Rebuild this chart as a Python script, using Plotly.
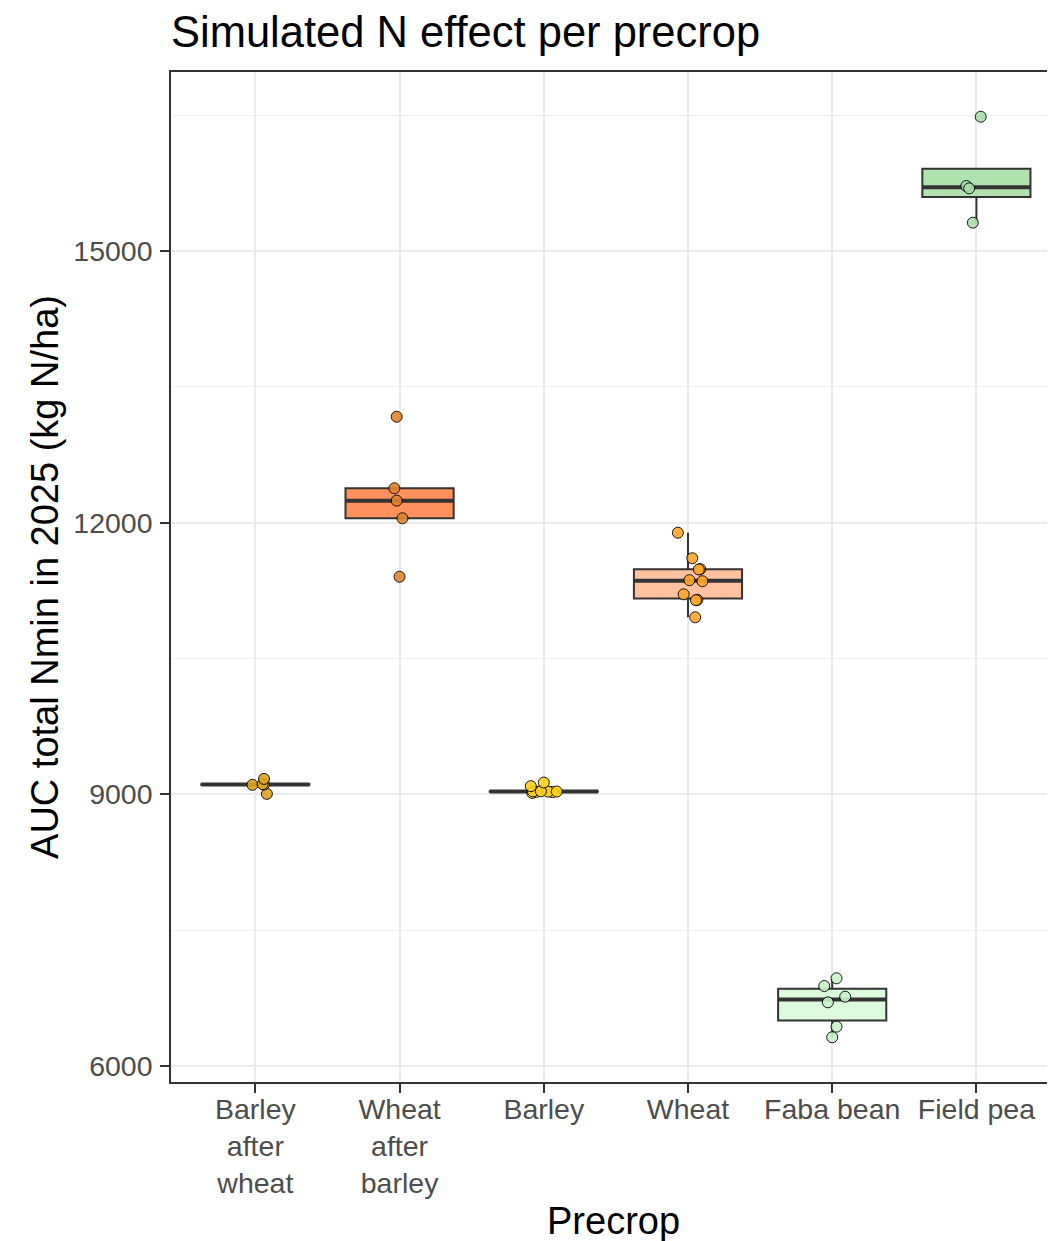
import numpy as np
import plotly.graph_objects as go

# ---------------- data ----------------
categories = ["Barley after wheat", "Wheat after barley", "Barley", "Wheat", "Faba bean", "Field pea"]
tick_labels = ["Barley<br>after<br>wheat", "Wheat<br>after<br>barley", "Barley", "Wheat", "Faba bean", "Field pea"]

barley_after_wheat = [9005, 9105, 9108, 9112, 9170]
wheat_after_barley = [13170, 12380, 12243, 12048, 11403]
barley = [9015, 9025, 9028, 9030, 9031, 9032, 9034, 9090, 9130]
wheat = [11889, 11607, 11487, 11483, 11365, 11353, 11209, 11148, 11144, 10955]
faba_bean = [6968, 6883, 6765, 6703, 6434, 6317]
field_pea = [16483, 15718, 15692, 15313]

# horizontal jitter of each point (category units)
jit_barley_after_wheat = [0.08, -0.02, 0.06, 0.05, 0.06]
jit_wheat_after_barley = [-0.02, -0.036, -0.02, 0.02, 0.0]
jit_barley = [-0.08, 0.06, -0.05, 0.03, 0.09, -0.075, -0.02, -0.09, 0.0]
jit_wheat = [-0.07, 0.03, 0.085, 0.075, 0.01, 0.1, -0.03, 0.065, 0.055, 0.05]
jit_faba_bean = [0.03, -0.055, 0.09, -0.03, 0.03, 0.0]
jit_field_pea = [0.03, -0.07, -0.05, -0.025]

box_fill = ["#DAA520", "#FF915C", "#FFD700", "#FFC1A0", "#DCFADC", "#B0E2B0"]
point_fill = ["#DAA520", "#E0842F", "#FFD21F", "#FFA62B", "#C9F2C9", "#A8DDA8"]

series = [barley_after_wheat, wheat_after_barley, barley, wheat, faba_bean, field_pea]
jitters = [jit_barley_after_wheat, jit_wheat_after_barley, jit_barley, jit_wheat,
           jit_faba_bean, jit_field_pea]

FONT = "Liberation Sans, Arial, sans-serif"
BOX_W = 0.75
W, H = 1047, 1233          # page body adds an 8px offset
ML, MT, MB = 163, 64, 159

fig = go.Figure()

# boxes (ggplot-style statistics)
for i, vals in enumerate(series):
    v = np.array(vals, dtype=float)
    q1, med, q3 = np.quantile(v, [0.25, 0.5, 0.75])
    iqr = q3 - q1
    lo = v[v >= q1 - 1.5 * iqr].min()
    hi = v[v <= q3 + 1.5 * iqr].max()
    fig.add_trace(go.Box(
        x=[i], q1=[q1], median=[med], q3=[q3],
        lowerfence=[min(lo, q1)], upperfence=[max(hi, q3)],
        width=BOX_W, whiskerwidth=0,
        fillcolor=box_fill[i],
        line=dict(color="#333333", width=2),
        showlegend=False, hoverinfo="skip",
    ))

# thicker median segments
for i, vals in enumerate(series):
    med = float(np.median(vals))
    fig.add_trace(go.Scatter(
        x=[i - BOX_W / 2, i + BOX_W / 2], y=[med, med], mode="lines",
        line=dict(color="#333333", width=4), showlegend=False, hoverinfo="skip",
    ))

# jittered points
for i, (vals, jit) in enumerate(zip(series, jitters)):
    fig.add_trace(go.Scatter(
        x=[i + j for j in jit], y=vals, mode="markers",
        marker=dict(size=11, color=point_fill[i], opacity=0.9,
                    line=dict(color="black", width=1)),
        showlegend=False, name=categories[i],
    ))

plot_h = H - MT - MB

fig.update_layout(
    width=W, height=H,
    margin=dict(l=ML, r=0, t=MT, b=MB, autoexpand=False),
    paper_bgcolor="white", plot_bgcolor="white",
    font=dict(family=FONT, color="black"),
    title=dict(text="Simulated N effect per precrop", x=0, xref="paper", xanchor="left",
               y=1 - 24 / H, yref="container", yanchor="middle", pad=dict(t=0, l=0),
               font=dict(size=43.5, color="black", family=FONT)),
    annotations=[
        dict(text="Precrop", xref="paper", yref="paper", x=0.5, xanchor="center",
             y=-(1213 - (MT + plot_h)) / plot_h, yanchor="middle",
             showarrow=False, font=dict(size=38, color="black", family=FONT)),
    ],
)

fig.update_xaxes(
    range=[-0.585, 5.545], automargin=False,
    tickmode="array", tickvals=list(range(len(categories))), ticktext=tick_labels,
    tickfont=dict(size=28.5, color="#4D4D4D", family=FONT),
    ticks="outside", ticklen=9, tickwidth=1.5, tickcolor="#333333",
    ticklabelstandoff=-8,
    showline=True, linecolor="#333333", linewidth=1.5, mirror=True,
    showgrid=True, gridcolor="#EBEBEB", gridwidth=1.5,
    zeroline=False,
)

fig.update_yaxes(
    range=[5823, 16977], automargin=False,
    tickmode="linear", tick0=6000, dtick=3000, tickformat="d",
    tickfont=dict(size=28.5, color="#4D4D4D", family=FONT),
    ticks="outside", ticklen=9, tickwidth=1.5, tickcolor="#333333",
    ticklabelstandoff=2,
    showline=True, linecolor="#333333", linewidth=1.5, mirror=False,
    showgrid=True, gridcolor="#EBEBEB", gridwidth=1.5,
    minor=dict(dtick=1500, tick0=6000, showgrid=True, gridcolor="#F0F0F0", gridwidth=1, ticks=""),
    zeroline=False,
    title=dict(text="AUC total Nmin in 2025 (kg N/ha)",
               font=dict(size=38, color="black", family=FONT), standoff=3),
)

fig.write_html("out.html")
